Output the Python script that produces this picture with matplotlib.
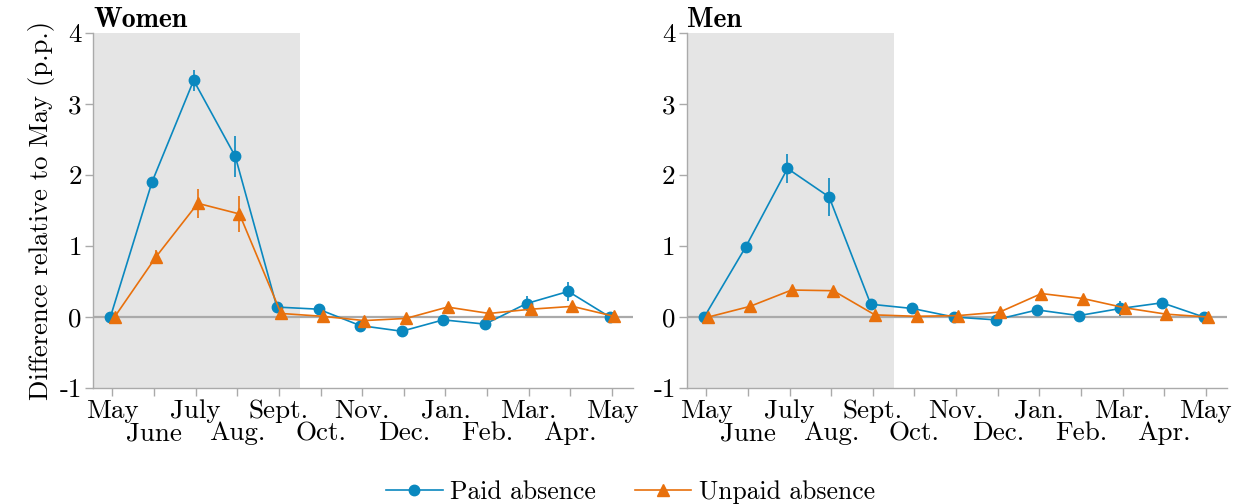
import matplotlib.pyplot as plt
from matplotlib.lines import Line2D
import numpy as np

plt.rcParams['font.family'] = ['cmr10', 'DejaVu Serif']
plt.rcParams['mathtext.fontset'] = 'cm'

months = ["May", "June", "July", "Aug.", "Sept.", "Oct.", "Nov.", "Dec.",
          "Jan.", "Feb.", "Mar.", "Apr.", "May"]

# Women
women_paid = [0, 1.90, 3.33, 2.26, 0.14, 0.11, -0.12, -0.20, -0.04, -0.10, 0.19, 0.36, 0.0]
women_paid_err = [0, 0.07, 0.15, 0.29, 0.03, 0.03, 0.04, 0.03, 0.07, 0.04, 0.10, 0.13, 0]
women_unpaid = [0, 0.85, 1.60, 1.45, 0.05, 0.01, -0.05, -0.02, 0.14, 0.05, 0.11, 0.15, 0.01]
women_unpaid_err = [0, 0.10, 0.20, 0.25, 0.05, 0.03, 0.04, 0.05, 0.06, 0.03, 0.05, 0.04, 0]

# Men
men_paid = [0, 0.99, 2.09, 1.69, 0.18, 0.12, 0.00, -0.04, 0.10, 0.02, 0.12, 0.20, 0.0]
men_paid_err = [0, 0.07, 0.21, 0.27, 0.03, 0.03, 0.03, 0.03, 0.04, 0.03, 0.10, 0.07, 0]
men_unpaid = [0, 0.15, 0.38, 0.37, 0.03, 0.01, 0.02, 0.07, 0.33, 0.26, 0.13, 0.04, 0.0]
men_unpaid_err = [0, 0.03, 0.04, 0.04, 0.02, 0.02, 0.02, 0.03, 0.05, 0.04, 0.03, 0.02, 0]

blue = '#0a88bf'
orange = '#e8700c'
grey = '#aaaaaa'

fig, axes = plt.subplots(1, 2, figsize=(12.39, 5.04), dpi=100)
fig.subplots_adjust(left=0.075, right=0.99, top=0.935, bottom=0.23, wspace=0.1)

x = np.arange(len(months))
panels = [("Women", women_paid, women_paid_err, women_unpaid, women_unpaid_err),
          ("Men", men_paid, men_paid_err, men_unpaid, men_unpaid_err)]

for ax, (name, p, pe, u, ue) in zip(axes, panels):
    ax.axvspan(-0.5, 4.5, color='#e5e5e5', lw=0, zorder=0)
    ax.axhline(0, color=grey, lw=1.6, zorder=1)
    ax.errorbar(x - 0.05, p, yerr=pe, color=blue, marker='o', ms=7.5,
                lw=1.2, elinewidth=1.2, capsize=0, zorder=3)
    ax.errorbar(x + 0.05, u, yerr=ue, color=orange, marker='^', ms=8.5,
                lw=1.2, elinewidth=1.2, capsize=0, zorder=3)
    ax.set_xlim(-0.47, 12.5)
    ax.set_ylim(-1, 4)
    ax.set_yticks([-1, 0, 1, 2, 3, 4])
    ax.set_yticklabels(["-1", "0", "1", "2", "3", "4"])
    # alternate month labels on two rows: even months as major, odd as minor
    ax.set_xticks(x[::2])
    ax.set_xticklabels(months[::2])
    ax.set_xticks(x[1::2], minor=True)
    ax.set_xticklabels(months[1::2], minor=True)
    for side in ['top', 'right']:
        ax.spines[side].set_visible(False)
    for side in ['left', 'bottom']:
        ax.spines[side].set_color(grey)
        ax.spines[side].set_linewidth(1.0)
    ax.tick_params(axis='both', which='both', colors=grey, labelcolor='black',
                   labelsize=19.5, length=6, width=1.0, pad=2)
    ax.tick_params(axis='x', which='minor', pad=18)
    ax.set_title(name, loc='left', fontsize=20, fontweight='bold',
                 family=['cmb10', 'DejaVu Serif'], pad=2)

axes[0].set_ylabel("Difference relative to May (p.p.)", fontsize=19.2, labelpad=3)

handles = [Line2D([], [], color=blue, marker='o', ms=7.5, lw=1.2),
           Line2D([], [], color=orange, marker='^', ms=8.5, lw=1.2)]
fig.legend(handles, ["Paid absence", "Unpaid absence"], loc='lower center',
           ncol=2, frameon=False, fontsize=18.5, bbox_to_anchor=(0.509, -0.045),
           handlelength=2.2, handletextpad=0.3, columnspacing=1.5)

fig.savefig('out.png', dpi=100)
